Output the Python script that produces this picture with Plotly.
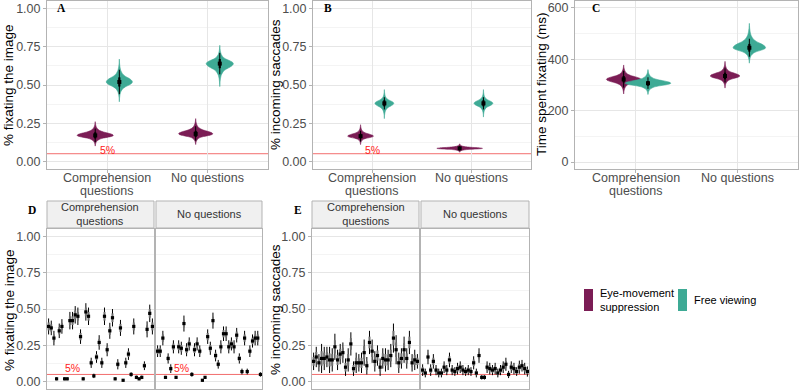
import plotly.graph_objects as go

W, H = 800, 391

# ------------------------------------------------------------------ data
cond_lines = [["Comprehension", "questions"], ["No questions"]]
cond_pos = [1, 2]
legend_labels = ["Eye-movement<br>suppression", "Free viewing"]
col_ems = "#7B1D55"
col_fv = "#3EAA95"

# Panel A: % fixating the image (posterior)  [comprehension, no questions]
A_ems_med = [0.17, 0.18]
A_ems_min = [0.10, 0.11]
A_ems_max = [0.26, 0.28]
A_ems_halfw = [0.18, 0.17]
A_ems_lo95 = [0.125, 0.135]
A_ems_hi95 = [0.215, 0.23]
A_ems_lo66 = [0.15, 0.16]
A_ems_hi66 = [0.19, 0.20]
A_fv_med = [0.52, 0.64]
A_fv_min = [0.39, 0.49]
A_fv_max = [0.67, 0.76]
A_fv_halfw = [0.13, 0.135]
A_fv_lo95 = [0.44, 0.57]
A_fv_hi95 = [0.60, 0.71]
A_fv_lo66 = [0.49, 0.61]
A_fv_hi66 = [0.55, 0.67]

# Panel B: % incoming saccades
B_ems_med = [0.165, 0.085]
B_ems_min = [0.11, 0.06]
B_ems_max = [0.24, 0.115]
B_ems_halfw = [0.13, 0.23]
B_ems_lo95 = [0.13, 0.07]
B_ems_hi95 = [0.20, 0.10]
B_ems_lo66 = [0.15, 0.08]
B_ems_hi66 = [0.18, 0.09]
B_fv_med = [0.38, 0.38]
B_fv_min = [0.28, 0.29]
B_fv_max = [0.47, 0.47]
B_fv_halfw = [0.095, 0.095]
B_fv_lo95 = [0.34, 0.34]
B_fv_hi95 = [0.42, 0.42]
B_fv_lo66 = [0.36, 0.36]
B_fv_hi66 = [0.40, 0.40]

# Panel C: time spent fixating (ms)
C_ems_med = [322, 335]
C_ems_min = [265, 288]
C_ems_max = [378, 392]
C_ems_halfw = [0.17, 0.145]
C_ems_lo95 = [290, 310]
C_ems_hi95 = [355, 365]
C_ems_lo66 = [310, 322]
C_ems_hi66 = [335, 348]
C_fv_med = [307, 445]
C_fv_min = [263, 385]
C_fv_max = [360, 540]
C_fv_halfw = [0.225, 0.16]
C_fv_lo95 = [285, 410]
C_fv_hi95 = [330, 480]
C_fv_lo66 = [297, 430]
C_fv_hi66 = [315, 460]

# density profile of the posterior violins (relative position, relative width)
prof_t = [-1, -0.8, -0.65, -0.5, -0.35, -0.25, -0.17, -0.1, -0.05, 0,
          0.05, 0.1, 0.17, 0.25, 0.35, 0.5, 0.65, 0.8, 1]
prof_w = [0, 0.02, 0.05, 0.11, 0.25, 0.45, 0.7, 0.88, 0.97, 1,
          0.97, 0.88, 0.7, 0.45, 0.25, 0.11, 0.05, 0.02, 0]

# Panels D/E: per-participant estimates (40 participants per condition)
participants = list(range(1, 41))
D_comp = [0.38, 0.37, 0.30, 0.02, 0.35, 0.38, 0.02, 0.02, 0.42, 0.42,
          0.46, 0.45, 0.31, 0.02, 0.48, 0.45, 0.13, 0.04, 0.17, 0.27,
          0.13, 0.45, 0.22, 0.35, 0.44, 0.02, 0.12, 0.37, 0.01, 0.13,
          0.19, 0.05, 0.38, 0.03, 0.02, 0.03, 0.11, 0.36, 0.47, 0.38]
D_comp_err = [0.055, 0.05, 0.05, 0.01, 0.05, 0.05, 0.01, 0.01, 0.06, 0.06,
              0.06, 0.06, 0.05, 0.01, 0.06, 0.06, 0.035, 0.015, 0.04, 0.05,
              0.035, 0.06, 0.045, 0.055, 0.06, 0.01, 0.035, 0.055, 0.008, 0.035,
              0.04, 0.015, 0.055, 0.012, 0.01, 0.012, 0.03, 0.055, 0.06, 0.055]
D_noq = [0.21, 0.21, 0.30, 0.03, 0.16, 0.09, 0.24, 0.03, 0.24, 0.23,
         0.40, 0.22, 0.26, 0.05, 0.22, 0.26, 0.21, 0.01, 0.03, 0.31,
         0.23, 0.42, 0.18, 0.12, 0.24, 0.33, 0.33, 0.24, 0.26, 0.24,
         0.32, 0.16, 0.07, 0.30, 0.07, 0.21, 0.28, 0.30, 0.30, 0.05]
D_noq_err = [0.04, 0.04, 0.05, 0.01, 0.035, 0.03, 0.045, 0.01, 0.045, 0.045,
             0.055, 0.045, 0.045, 0.015, 0.045, 0.045, 0.04, 0.008, 0.01, 0.05,
             0.045, 0.055, 0.04, 0.03, 0.045, 0.05, 0.05, 0.045, 0.045, 0.045,
             0.05, 0.035, 0.02, 0.05, 0.02, 0.04, 0.045, 0.05, 0.05, 0.015]
E_comp = [0.14, 0.17, 0.13, 0.16, 0.16, 0.17, 0.15, 0.15, 0.24, 0.15,
          0.19, 0.20, 0.10, 0.15, 0.26, 0.09, 0.13, 0.13, 0.13, 0.20,
          0.11, 0.27, 0.21, 0.14, 0.18, 0.10, 0.16, 0.15, 0.15, 0.18,
          0.30, 0.22, 0.13, 0.16, 0.22, 0.16, 0.27, 0.13, 0.15, 0.14]
E_comp_err = [0.06, 0.07, 0.06, 0.10, 0.08, 0.07, 0.09, 0.08, 0.09, 0.07,
              0.07, 0.07, 0.06, 0.08, 0.08, 0.05, 0.07, 0.06, 0.07, 0.09,
              0.06, 0.08, 0.08, 0.07, 0.07, 0.06, 0.07, 0.08, 0.07, 0.08,
              0.10, 0.10, 0.07, 0.07, 0.09, 0.07, 0.08, 0.06, 0.07, 0.05]
E_noq = [0.08, 0.06, 0.17, 0.08, 0.14, 0.08, 0.06, 0.06, 0.10, 0.08,
         0.15, 0.08, 0.07, 0.09, 0.10, 0.08, 0.07, 0.08, 0.07, 0.13,
         0.06, 0.18, 0.03, 0.03, 0.10, 0.09, 0.08, 0.09, 0.06, 0.08,
         0.10, 0.12, 0.05, 0.10, 0.09, 0.07, 0.10, 0.11, 0.09, 0.07]
E_noq_err = [0.04, 0.03, 0.05, 0.04, 0.05, 0.035, 0.03, 0.03, 0.04, 0.035,
             0.05, 0.035, 0.03, 0.04, 0.04, 0.035, 0.03, 0.035, 0.03, 0.045,
             0.03, 0.05, 0.015, 0.015, 0.04, 0.04, 0.035, 0.04, 0.03, 0.035,
             0.04, 0.045, 0.025, 0.04, 0.04, 0.03, 0.045, 0.04, 0.04, 0.035]

chance = 0.05
prop_ticks = [0, 0.25, 0.5, 0.75, 1]
prop_ticktext = ["0.00", "0.25", "0.50", "0.75", "1.00"]
prop_minor = [0.125, 0.375, 0.625, 0.875]
ms_ticks = [0, 200, 400, 600]
ms_minor = [100, 300, 500]

# ------------------------------------------------------------------ helpers
FONT = "Liberation Sans, Arial, sans-serif"
GRID = "#e6e6e6"
MINOR = "#f4f4f4"
BORDER = "#b3b3b3"
TICKCOL = "#4d4d4d"
DODGE = 0.12


def fx(px):
    return px / W


def fy(py):
    return 1 - py / H


fig = go.Figure()


def violin(xa, ya, xc, med, lo, hi, halfw, color):
    xs_l, ys_l = [], []
    for t, w in zip(prof_t, prof_w):
        y = med + t * ((hi - med) if t > 0 else (med - lo))
        xs_l.append(xc - w * halfw)
        ys_l.append(y)
    xs_r = [xc + (xc - v) for v in xs_l][::-1]
    ys_r = ys_l[::-1]
    fig.add_trace(go.Scatter(
        x=xs_l + xs_r, y=ys_l + ys_r, fill="toself", fillcolor=color,
        mode="lines", line=dict(width=0.6, color=color, shape="spline", smoothing=0.5),
        xaxis=xa, yaxis=ya, showlegend=False, hoverinfo="skip"))


def pointrange(xa, ya, xs, med, lo95, hi95, lo66, hi66):
    fig.add_trace(go.Scatter(
        x=xs, y=med, mode="markers", marker=dict(size=0.1, color="black"),
        error_y=dict(type="data", symmetric=False,
                     array=[h - m for h, m in zip(hi95, med)],
                     arrayminus=[m - l for l, m in zip(lo95, med)],
                     width=0, thickness=1, color="black"),
        xaxis=xa, yaxis=ya, showlegend=False, hoverinfo="skip"))
    fig.add_trace(go.Scatter(
        x=xs, y=med, mode="markers", marker=dict(size=4, color="black", symbol="square"),
        error_y=dict(type="data", symmetric=False,
                     array=[h - m for h, m in zip(hi66, med)],
                     arrayminus=[m - l for l, m in zip(lo66, med)],
                     width=0, thickness=2.2, color="black"),
        xaxis=xa, yaxis=ya, showlegend=False, hoverinfo="skip"))


def summary_panel(xa, ya, data_ems, data_fv):
    for data, col, sgn in ((data_ems, col_ems, -1), (data_fv, col_fv, 1)):
        med, mn, mx, hw, lo95, hi95, lo66, hi66 = data
        xs = [c + sgn * DODGE for c in cond_pos]
        for i in range(len(cond_pos)):
            violin(xa, ya, xs[i], med[i], mn[i], mx[i], hw[i], col)
        pointrange(xa, ya, xs, med, lo95, hi95, lo66, hi66)


summary_panel("x", "y",
              (A_ems_med, A_ems_min, A_ems_max, A_ems_halfw, A_ems_lo95, A_ems_hi95, A_ems_lo66, A_ems_hi66),
              (A_fv_med, A_fv_min, A_fv_max, A_fv_halfw, A_fv_lo95, A_fv_hi95, A_fv_lo66, A_fv_hi66))
summary_panel("x2", "y2",
              (B_ems_med, B_ems_min, B_ems_max, B_ems_halfw, B_ems_lo95, B_ems_hi95, B_ems_lo66, B_ems_hi66),
              (B_fv_med, B_fv_min, B_fv_max, B_fv_halfw, B_fv_lo95, B_fv_hi95, B_fv_lo66, B_fv_hi66))
summary_panel("x3", "y3",
              (C_ems_med, C_ems_min, C_ems_max, C_ems_halfw, C_ems_lo95, C_ems_hi95, C_ems_lo66, C_ems_hi66),
              (C_fv_med, C_fv_min, C_fv_max, C_fv_halfw, C_fv_lo95, C_fv_hi95, C_fv_lo66, C_fv_hi66))


def participant_panel(xa, ya, vals, err):
    fig.add_trace(go.Scatter(
        x=participants, y=vals, mode="markers",
        marker=dict(size=0.1, color="black"),
        error_y=dict(type="data", array=err, width=0, thickness=1.0, color="black"),
        xaxis=xa, yaxis=ya, showlegend=False, hoverinfo="skip"))
    fig.add_trace(go.Scatter(
        x=participants, y=vals, mode="markers",
        marker=dict(size=3.2, color="black", symbol="square"),
        error_y=dict(type="data", array=[e * 0.5 for e in err], width=0,
                     thickness=2.0, color="#707070"),
        xaxis=xa, yaxis=ya, showlegend=False, hoverinfo="skip"))


participant_panel("x4", "y4", D_comp, D_comp_err)
participant_panel("x5", "y5", D_noq, D_noq_err)
participant_panel("x6", "y6", E_comp, E_comp_err)
participant_panel("x7", "y7", E_noq, E_noq_err)

# ------------------------------------------------------------------ axes
panels = {
    # name: (x0, x1, y0, y1) in pixels
    "1": (47, 268, 1, 169),
    "2": (313, 531, 1, 169),
    "3": (575, 798, 1, 169),
    "4": (47, 154, 229, 389),
    "5": (156, 262, 229, 389),
    "6": (312, 419, 229, 389),
    "7": (421, 529, 229, 389),
}

layout = dict(
    width=W, height=H, margin=dict(l=0, r=0, t=0, b=0),
    paper_bgcolor="white", plot_bgcolor="white",
    font=dict(family=FONT, size=12, color=TICKCOL),
    showlegend=False,
)

for key, (x0, x1, y0, y1) in panels.items():
    xn = "xaxis" if key == "1" else "xaxis" + key
    yn = "yaxis" if key == "1" else "yaxis" + key
    anchor_x = "y" if key == "1" else "y" + key
    anchor_y = "x" if key == "1" else "x" + key
    common = dict(showline=True, mirror=True, linecolor=BORDER, linewidth=1,
                  zeroline=False, fixedrange=True)
    xa = dict(domain=[fx(x0), fx(x1)], anchor=anchor_x, **common)
    ya = dict(domain=[fy(y1), fy(y0)], anchor=anchor_y, **common)
    if key in ("1", "2", "3"):
        xa.update(range=[0.4, 2.6], tickvals=cond_pos, showticklabels=False,
                  showgrid=True, gridcolor=GRID, gridwidth=1,
                  ticks="outside", ticklen=3, tickcolor=BORDER)
    else:
        xa.update(range=[0.4, 40.6], showgrid=False, showticklabels=False, ticks="")
    if key == "3":
        ya.update(range=[-27, 627], tickvals=ms_ticks,
                  ticktext=[str(v) for v in ms_ticks],
                  minor=dict(tickvals=ms_minor, showgrid=True, gridcolor=MINOR, ticks=""))
    else:
        ya.update(range=[-0.05, 1.05], tickvals=prop_ticks, ticktext=prop_ticktext,
                  minor=dict(tickvals=prop_minor, showgrid=True, gridcolor=MINOR, ticks=""))
    ya.update(showgrid=True, gridcolor=GRID, gridwidth=1)
    if key in ("5", "7"):
        ya.update(showticklabels=False, ticks="")
    else:
        ya.update(ticks="outside", ticklen=3, tickcolor=BORDER,
                  tickfont=dict(size=12.5, color=TICKCOL, family=FONT))
    layout[xn] = xa
    layout[yn] = ya

fig.update_layout(**layout)

# chance line (5%)
shapes = []
for key in ("1", "2", "4", "5", "6", "7"):
    xr = "x" if key == "1" else "x" + key
    yr = "y" if key == "1" else "y" + key
    shapes.append(dict(type="line", xref=xr + " domain", yref=yr, x0=0, x1=1,
                       y0=chance, y1=chance, line=dict(color="#F26D6D", width=1),
                       layer="below"))

# facet strips
strip_cols = [(47, 154), (156, 262), (312, 419), (421, 529)]
strip_text = ["Comprehension<br>questions", "No questions"] * 2
for (sx0, sx1) in strip_cols:
    shapes.append(dict(type="rect", xref="paper", yref="paper",
                       x0=fx(sx0), x1=fx(sx1), y0=fy(228), y1=fy(201),
                       fillcolor="#f0f0f0", line=dict(color=BORDER, width=1)))

# legend swatches
shapes.append(dict(type="rect", xref="paper", yref="paper", x0=fx(584), x1=fx(593),
                   y0=fy(311), y1=fy(289), fillcolor=col_ems, line=dict(width=0)))
shapes.append(dict(type="rect", xref="paper", yref="paper", x0=fx(678), x1=fx(687),
                   y0=fy(311), y1=fy(289), fillcolor=col_fv, line=dict(width=0)))
fig.update_layout(shapes=shapes)

ann = []
for (sx0, sx1), txt in zip(strip_cols, strip_text):
    ann.append(dict(text=txt, xref="paper", yref="paper", x=fx((sx0 + sx1) / 2),
                    y=fy(214.5), showarrow=False, xanchor="center", yanchor="middle",
                    font=dict(size=11, color="#333333", family=FONT)))

# category labels below panels A-C (two lines with tight spacing)
for xr in ("x", "x2", "x3"):
    for pos, lines in zip(cond_pos, cond_lines):
        for j, line in enumerate(lines):
            ann.append(dict(text=line, xref=xr, yref="paper", x=pos, y=fy(177.5 + 13.5 * j),
                            showarrow=False, xanchor="center", yanchor="middle",
                            font=dict(size=12.5, color=TICKCOL, family=FONT)))

# 5% labels
for xr, yr, xv in (("x", "y", 1), ("x2", "y2", 1), ("x4", "y4", 10), ("x5", "y5", 10)):
    ann.append(dict(text="5%", xref=xr, yref=yr, x=xv, y=chance, showarrow=False,
                    xanchor="center", yanchor="middle", yshift=4 if xr in ("x", "x2") else 6,
                    font=dict(size=10.5, color="#ff1a1a", family=FONT)))

# axis titles
titles = [("% fixating the image", 9, 85), ("% incoming saccades", 276, 85),
          ("Time spent fixating (ms)", 541, 84), ("% fixating the image", 9, 310),
          ("% incoming saccades", 275, 310)]
for txt, px, py in titles:
    ann.append(dict(text=txt, xref="paper", yref="paper", x=fx(px), y=fy(py),
                    textangle=-90, showarrow=False, xanchor="center", yanchor="middle",
                    font=dict(size=13.5, color="black", family=FONT)))

# panel tags
for txt, px, py in (("A", 61, 8), ("B", 328, 8), ("C", 596, 8), ("D", 32, 210), ("E", 298, 210)):
    ann.append(dict(text="<b>%s</b>" % txt, xref="paper", yref="paper", x=fx(px), y=fy(py),
                    showarrow=False, xanchor="center", yanchor="middle",
                    font=dict(size=11.5, color="black", family="Liberation Serif, serif")))

# legend text
ann.append(dict(text=legend_labels[0], xref="paper", yref="paper", x=fx(598), y=fy(300),
                showarrow=False, xanchor="left", yanchor="middle", align="left",
                font=dict(size=11, color="black", family=FONT)))
ann.append(dict(text=legend_labels[1], xref="paper", yref="paper", x=fx(692), y=fy(300),
                showarrow=False, xanchor="left", yanchor="middle", align="left",
                font=dict(size=11, color="black", family=FONT)))
fig.update_layout(annotations=ann)

fig.write_html("out.html")
